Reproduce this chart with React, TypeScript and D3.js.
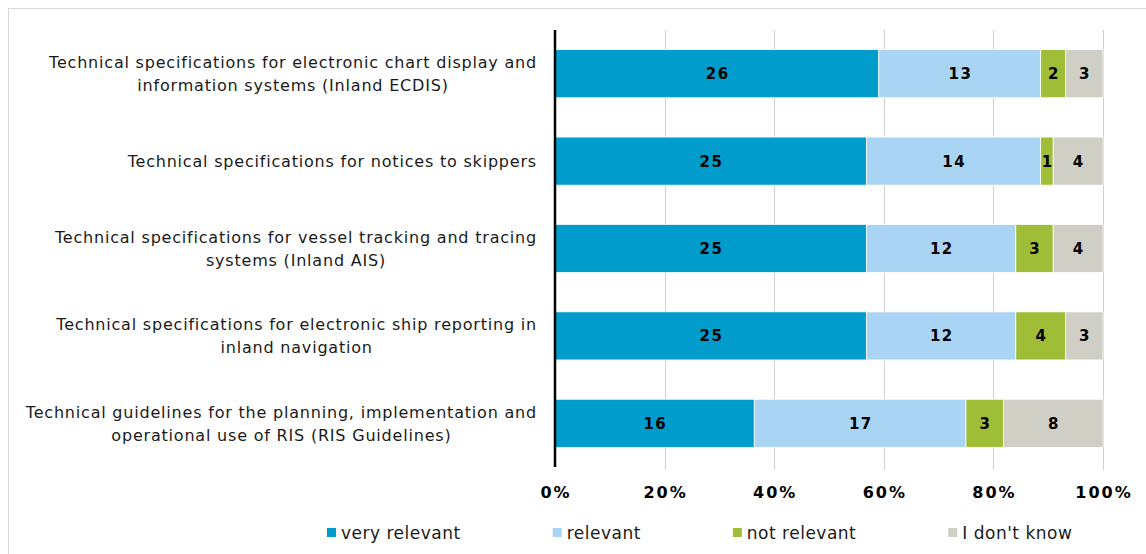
import React, { useEffect, useRef } from "react";
import * as d3 from "d3";

const categories = [
  ["Technical specifications for electronic chart display and", "information systems (Inland ECDIS)"],
  ["Technical specifications for notices to skippers"],
  ["Technical specifications for vessel tracking and tracing", "systems (Inland AIS)"],
  ["Technical specifications for electronic ship reporting in", "inland navigation"],
  ["Technical guidelines for the planning, implementation and", "operational use of RIS (RIS Guidelines)"],
];
const seriesNames = ["very relevant", "relevant", "not relevant", "I don't know"];
const veryRelevant = [26, 25, 25, 25, 16];
const relevant = [13, 14, 12, 12, 17];
const notRelevant = [2, 1, 3, 4, 3];
const dontKnow = [3, 4, 4, 3, 8];
const tickValues = [0, 0.2, 0.4, 0.6, 0.8, 1];

const colors = ["#009ccc", "#a9d4f4", "#a0bd38", "#d0cfc6"];
const font = "'DejaVu Sans', Verdana, sans-serif";

const App = () => {
  const ref = useRef<SVGSVGElement>(null);

  useEffect(() => {
    const svg = d3.select(ref.current);
    svg.selectAll("*").remove();

    const series = [veryRelevant, relevant, notRelevant, dontKnow];
    const rows = categories.map((c, i) => {
      const vals = series.map((s) => s[i]);
      const total = d3.sum(vals);
      let acc = 0;
      return vals.map((v) => {
        const seg = { x0: acc / total, x1: (acc + v) / total, v };
        acc += v;
        return seg;
      });
    });

    const x = d3.scaleLinear().domain([0, 1]).range([555, 1103]);
    const y = d3
      .scaleBand<number>()
      .domain(d3.range(categories.length))
      .range([30, 467])
      .paddingInner(0.45)
      .paddingOuter(0.225);

    // outer frame
    svg
      .append("rect")
      .attr("x", 8.5)
      .attr("y", 8.5)
      .attr("width", 1200)
      .attr("height", 600)
      .attr("fill", "#fff")
      .attr("stroke", "#d9d9d9");

    // gridlines
    svg
      .append("g")
      .selectAll("line")
      .data(tickValues.slice(1))
      .join("line")
      .attr("x1", (d) => Math.round(x(d)) + 0.5)
      .attr("x2", (d) => Math.round(x(d)) + 0.5)
      .attr("y1", 30)
      .attr("y2", 470)
      .attr("stroke", "#d0d0d0")
      .attr("stroke-width", 1);

    // bars
    rows.forEach((segs, i) => {
      const g = svg.append("g");
      segs.forEach((s, j) => {
        g.append("rect")
          .attr("x", x(s.x0))
          .attr("y", y(i)!)
          .attr("width", x(s.x1) - x(s.x0))
          .attr("height", y.bandwidth())
          .attr("fill", colors[j])
          .attr("stroke", "#fff")
          .attr("stroke-width", 0.75);
        g.append("text")
          .attr("x", (x(s.x0) + x(s.x1)) / 2 + 0.75)
          .attr("y", y(i)! + y.bandwidth() / 2)
          .attr("dy", "0.36em")
          .attr("text-anchor", "middle")
          .attr("font-family", font)
          .attr("font-weight", "bold")
          .attr("font-size", 15)
          .attr("letter-spacing", 1.5)
          .attr("fill", "#000")
          .text(s.v);
      });
    });

    // axis line
    svg
      .append("line")
      .attr("x1", 555)
      .attr("x2", 555)
      .attr("y1", 30)
      .attr("y2", 467)
      .attr("stroke", "#000")
      .attr("stroke-width", 2.5);

    // tick labels
    svg
      .append("g")
      .selectAll("text")
      .data(tickValues)
      .join("text")
      .attr("x", (d) => x(d) + 1)
      .attr("y", 498)
      .attr("text-anchor", "middle")
      .attr("font-family", font)
      .attr("font-weight", "bold")
      .attr("font-size", 16)
      .attr("letter-spacing", 2)
      .attr("fill", "#000")
      .text((d) => d3.format(".0%")(d));

    // category labels: block right-aligned, lines centered in block
    categories.forEach((lines, i) => {
      const g = svg.append("g");
      const texts = lines.map((l) =>
        g
          .append("text")
          .attr("font-family", font)
          .attr("font-size", 16)
          .attr("letter-spacing", 0.8)
          .attr("fill", "#1a1a1a")
          .attr("text-anchor", "middle")
          .text(l)
      );
      const widths = texts.map((t) => (t.node() as SVGTextElement).getComputedTextLength());
      const w = d3.max(widths)!;
      const cx = 537 - w / 2;
      const lh = 23;
      const cy = y(i)! + y.bandwidth() / 2;
      texts.forEach((t, k) => {
        t.attr("x", cx)
          .attr("y", cy + (k - (lines.length - 1) / 2) * lh)
          .attr("dy", "0.36em");
      });
    });

    // legend
    const leg = svg.append("g");
    let lx = 327;
    seriesNames.forEach((name, j) => {
      leg
        .append("rect")
        .attr("x", lx)
        .attr("y", 528)
        .attr("width", 9)
        .attr("height", 9)
        .attr("fill", colors[j]);
      const t = leg
        .append("text")
        .attr("x", lx + 14)
        .attr("y", 533)
        .attr("dy", "0.36em")
        .attr("font-family", font)
        .attr("font-size", 17)
        .attr("letter-spacing", 0.5)
        .attr("fill", "#1a1a1a")
        .text(name);
      lx += 14 + (t.node() as SVGTextElement).getComputedTextLength() + 92;
    });
  }, []);

  return (
    <svg
      ref={ref}
      width={1146}
      height={554}
      style={{ position: "absolute", left: 0, top: 0, background: "#fff" }}
    ></svg>
  );
};

export default App;
